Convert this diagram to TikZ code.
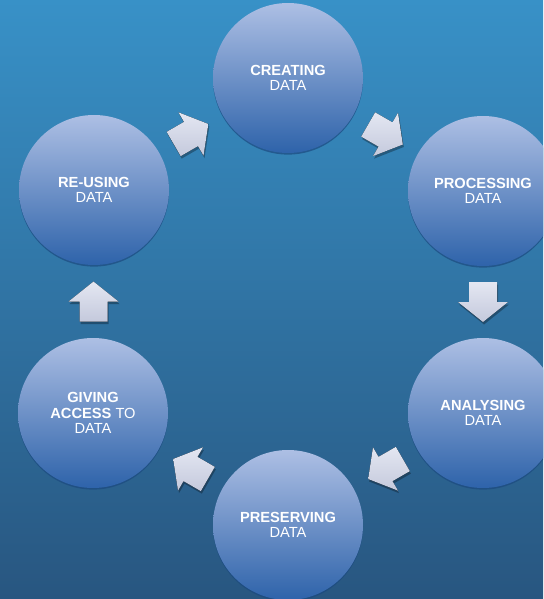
\documentclass[tikz,border=0pt]{standalone}
\usepackage{fontspec}
\setmainfont{Liberation Sans}
\usepackage{tikz}
\usetikzlibrary{calc, shadows}
\definecolor{bgtop}{HTML}{3891C7}
\definecolor{bgbot}{HTML}{285680}
\definecolor{circtop}{HTML}{ADBFE4}
\definecolor{circmid}{HTML}{7C9BD0}
\definecolor{circbot}{HTML}{2E63AA}
\definecolor{circrim}{HTML}{1C4A80}
\definecolor{arrtop}{HTML}{E4E7F2}
\definecolor{arrbot}{HTML}{C4C9DC}
\tikzset{
    stage/.style={circle, minimum size=112.5pt, inner sep=0pt,
        top color=circtop, middle color=circmid, bottom color=circbot,
        text=white, align=center, font=\fontsize{11}{11.5}\selectfont,
        drop shadow={shadow xshift=0pt, shadow yshift=-1.2pt, fill=circrim, opacity=0.7}},
    pics/turn/.style={code={
        \fill[black, opacity=0.3, shift={(1,2.5)}, rotate=#1]
            (-20,-14) -- (0,-14) -- (0,-25) -- (20,0) -- (0,25) -- (0,14) -- (-20,14) -- cycle;
        \fill[top color=arrtop, bottom color=arrbot, rotate=#1]
            (-20,-14) -- (0,-14) -- (0,-25) -- (20,0) -- (0,25) -- (0,14) -- (-20,14) -- cycle;
    }}
}
\begin{document}
\begin{tikzpicture}[x=0.75pt, y=-0.75pt]
    \useasboundingbox (0,0) rectangle (543,599);
    \clip (0,0) rectangle (543,599);
    \fill[top color=bgtop, bottom color=bgbot] (0,0) rectangle (543,599);
    % the six stages
    \node[stage] (create)   at (288,78)  {\textbf{CREATING}\\DATA};
    \node[stage] (process)  at (483,191) {\textbf{PROCESSING}\\DATA};
    \node[stage] (analyse)  at (483,413) {\textbf{ANALYSING}\\DATA};
    \node[stage] (preserve) at (288,525) {\textbf{PRESERVING}\\DATA};
    \node[stage] (give)     at (93,413)  {\textbf{GIVING}\\\textbf{ACCESS} TO\\DATA};
    \node[stage] (reuse)    at (94,190)  {\textbf{RE-USING}\\DATA};
    % arrows between them
    \pic at ($(reuse)!0.5!(create)$)     {turn=30};
    \pic at ($(create)!0.5!(process)$)   {turn=-30};
    \pic at ($(process)!0.5!(analyse)$)  {turn=-90};
    \pic at ($(analyse)!0.5!(preserve)$) {turn=210};
    \pic at ($(preserve)!0.5!(give)$)    {turn=150};
    \pic at ($(give)!0.5!(reuse)$)       {turn=90};
\end{tikzpicture}
\end{document}
